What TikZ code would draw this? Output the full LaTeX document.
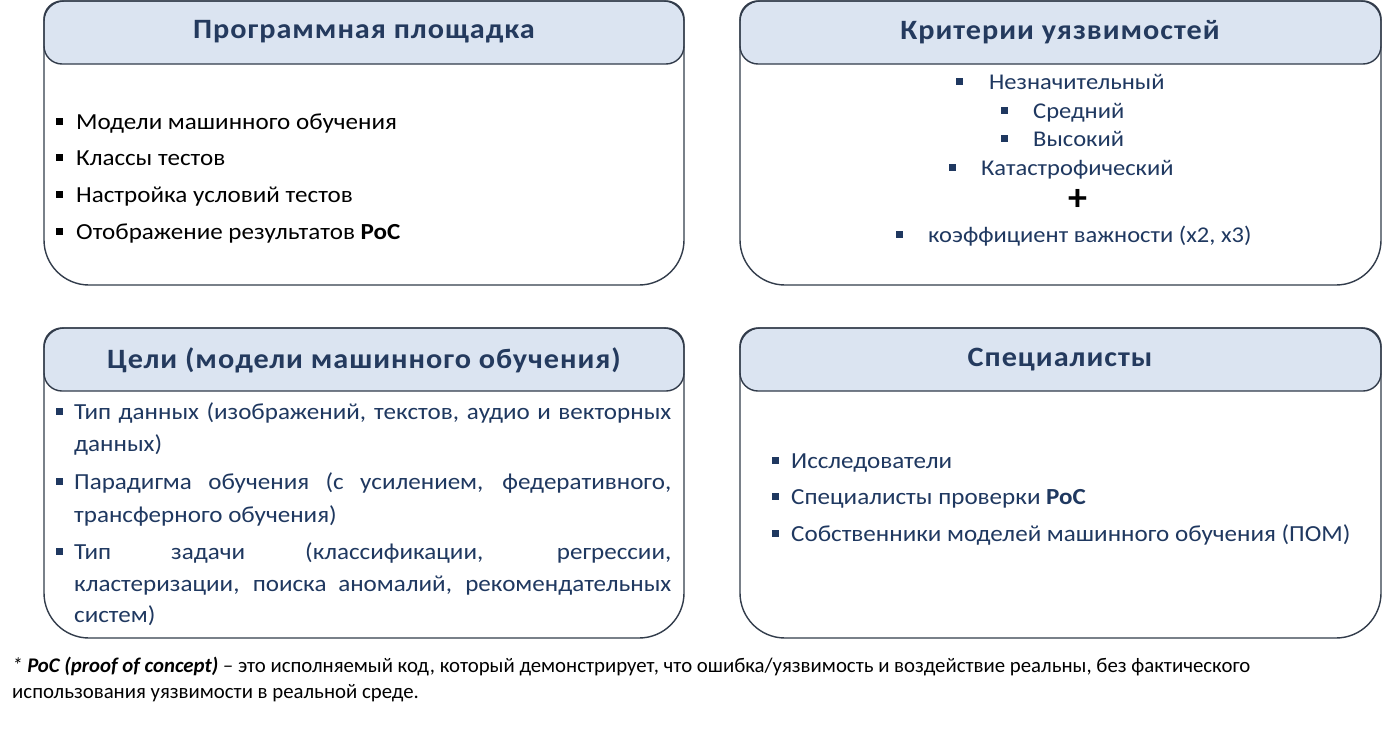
\documentclass[tikz,border=0pt]{standalone}
\usepackage{fontspec}
\setmainfont{Carlito}
\newfontfamily\boxfont[FakeStretch=1.09]{Carlito}
\newfontfamily\headfont[FakeStretch=1.08,LetterSpace=3.5]{Carlito}
\definecolor{hdrfill}{RGB}{219,228,241}
\definecolor{edge}{RGB}{50,60,75}
\definecolor{navy}{RGB}{31,56,96}
\definecolor{hdrtxt}{RGB}{36,58,94}
\newcommand{\blt}{\raisebox{4pt}{\rule{7pt}{7pt}}}
\begin{document}
\begin{tikzpicture}[x=1pt,y=-1pt,
  boxedge/.style={draw=edge, line width=1.4pt},
  hdrband/.style={draw=edge, line width=1.4pt, fill=hdrfill, rounded corners=18pt},
  hdr/.style={font=\headfont\bfseries\fontsize{28}{32}\selectfont, text=hdrtxt, inner sep=0pt},
  itm/.style={anchor=base west, inner sep=0pt, font=\boxfont\fontsize{23}{28}\selectfont},
  ctr/.style={anchor=base west, inner sep=0pt, font=\boxfont\fontsize{22.5}{26}\selectfont, text=navy},
  foot/.style={anchor=base west, inner sep=0pt, font=\fontsize{20.8}{25}\selectfont}]
\useasboundingbox (0,0) rectangle (1400,736);
\fill[white] (0,0) rectangle (1400,736);
% ---- Box 1
\draw[hdrband] (44,1) rectangle (684,64);
\draw[boxedge] (44,150) [rounded corners=20pt] -- (44,1) -- (684,1) -- (684,150) [rounded corners=45pt] -- (684,285) -- (44,285) -- cycle;
\node[hdr] (h1) at (364,32) {Программная площадка};
\node[itm] (a1) at (56,129) {\makebox[20pt][l]{\blt}Модели машинного обучения};
\node[itm] (a2) at (56,165) {\makebox[20pt][l]{\blt}Классы тестов};
\node[itm] (a3) at (56,202) {\makebox[20pt][l]{\blt}Настройка условий тестов};
\node[itm] (a4) at (56,239) {\makebox[20pt][l]{\blt}Отображение результатов \textbf{PoC}};
% ---- Box 2
\draw[hdrband] (740,1) rectangle (1381,64);
\draw[boxedge] (740,150) [rounded corners=20pt] -- (740,1) -- (1381,1) -- (1381,150) [rounded corners=45pt] -- (1381,285) -- (740,285) -- cycle;
\node[hdr] (h2) at (1060,32) {Критерии уязвимостей};
\node[ctr] (b1) at (956,89) {\makebox[33pt][l]{\blt}Незначительный};
\node[ctr] (b2) at (1001,118) {\makebox[32pt][l]{\blt}Средний};
\node[ctr] (b3) at (1001,146) {\makebox[32pt][l]{\blt}Высокий};
\node[ctr] (b4) at (949,175) {\makebox[32pt][l]{\blt}Катастрофический};
\node[inner sep=0pt, font=\bfseries\fontsize{38}{38}\selectfont] (plus) at (1078,200) {+};
\node[ctr] (b5) at (896,242) {\makebox[32pt][l]{\blt}коэффициент важности (x2, x3)};
% ---- Box 3
\draw[hdrband] (44,328) rectangle (684,391);
\draw[boxedge] (44,480) [rounded corners=20pt] -- (44,328) -- (684,328) -- (684,480) [rounded corners=45pt] -- (684,638) -- (44,638) -- cycle;
\node[hdr] (h3) at (364,360) {Цели (модели машинного обучения)};
\begin{scope}[every node/.style={itm, text=navy}]
\node (c1) at (56,419) {\makebox[18pt][l]{\blt}\makebox[597pt][s]{Тип данных (изображений, текстов, аудио и векторных}};
\node (c2) at (74,451) {данных)};
\node (c3) at (56,489) {\makebox[18pt][l]{\blt}\makebox[597pt][s]{Парадигма обучения (с усилением, федеративного,}};
\node (c4) at (74,522) {трансферного обучения)};
\node (c5) at (56,559) {\makebox[18pt][l]{\blt}\makebox[597pt][s]{Тип задачи (классификации, регрессии,}};
\node (c6) at (74,591) {\makebox[597pt][s]{кластеризации, поиска аномалий, рекомендательных}};
\node (c7) at (74,622) {систем)};
\end{scope}
% ---- Box 4
\draw[hdrband] (740,328) rectangle (1381,391);
\draw[boxedge] (740,480) [rounded corners=20pt] -- (740,328) -- (1381,328) -- (1381,480) [rounded corners=45pt] -- (1381,638) -- (740,638) -- cycle;
\node[hdr] (h4) at (1060,360) {Специалисты};
\begin{scope}[every node/.style={itm, text=navy}]
\node (d1) at (772,468) {\makebox[19pt][l]{\blt}Исследователи};
\node (d2) at (772,504) {\makebox[19pt][l]{\blt}Специалисты проверки \textbf{PoC}};
\node (d3) at (772,541) {\makebox[19pt][l]{\blt}Собственники моделей машинного обучения (ПОМ)};
\end{scope}
% ---- Footnote
\node[foot] (f1) at (12,672) {\textit{* \textbf{PoC (proof of concept)} –} это исполняемый код, который демонстрирует, что ошибка/уязвимость и воздействие реальны, без фактического};
\node[foot] (f2) at (12,698) {использования уязвимости в реальной среде.};
\end{tikzpicture}
\end{document}
